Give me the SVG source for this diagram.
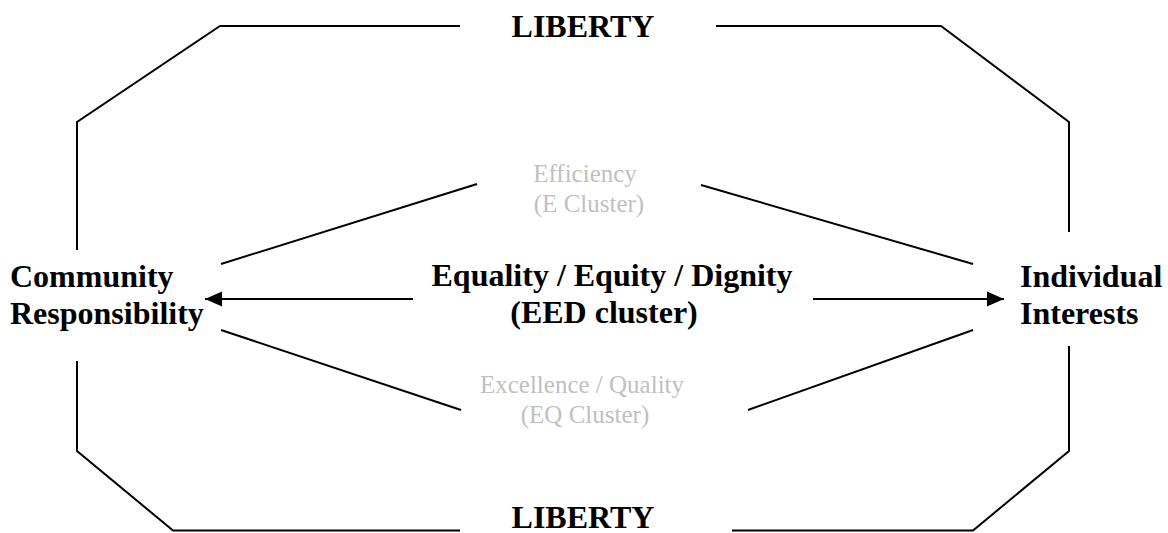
<svg xmlns="http://www.w3.org/2000/svg" width="1168" height="533" viewBox="0 0 1168 533">
  <style>
    text { font-family: 'Liberation Serif', 'Tinos', 'Times New Roman', 'DejaVu Serif', serif; }
    .bold { font-weight: bold; font-size: 32px; fill: #000; }
    .soft { font-size: 25px; fill: #c0c0c0; }
    .edge { fill: none; stroke: #000; stroke-width: 2; stroke-linejoin: miter; }
    .arrow { fill: none; stroke: #000; stroke-width: 2; marker-end: url(#head); }
  </style>
  <defs>
    <marker id="head" markerUnits="userSpaceOnUse" markerWidth="18" markerHeight="16" refX="17" refY="8" orient="auto">
      <path d="M0,0.5 L17,8 L0,15.5 Z" fill="#000"/>
    </marker>
  </defs>
  <rect width="1168" height="533" fill="#fff"/>

  <g id="connectors">
    <!-- outer octagon, broken where the labels sit -->
    <polyline class="edge" points="77,250 77,122 220,26 460,26"/>
    <polyline class="edge" points="716,26 941,26 1069,122 1069,232"/>
    <polyline class="edge" points="77,361 77,451 173,530.5 460,530.5"/>
    <polyline class="edge" points="732,530.5 973,530.5 1069,451 1069,346"/>
    <!-- spokes to the side clusters -->
    <line class="edge" x1="221" y1="264" x2="477" y2="184"/>
    <line class="edge" x1="701" y1="185" x2="973" y2="264"/>
    <line class="edge" x1="221" y1="330" x2="461" y2="410"/>
    <line class="edge" x1="748" y1="410" x2="973" y2="330"/>
    <!-- arrows from the central cluster -->
    <line class="arrow" x1="413" y1="299" x2="205" y2="299"/>
    <line class="arrow" x1="813" y1="299" x2="1004" y2="299"/>
  </g>

  <g id="liberty-top">
    <text class="bold" x="583" y="37" text-anchor="middle" font-family="Liberation Serif">LIBERTY</text>
  </g>
  <g id="liberty-bottom">
    <text class="bold" x="583" y="528" text-anchor="middle">LIBERTY</text>
  </g>
  <g id="community">
    <text class="bold" x="10" y="287">Community</text>
    <text class="bold" x="10" y="324">Responsibility</text>
  </g>
  <g id="individual">
    <text class="bold" x="1020" y="287">Individual</text>
    <text class="bold" x="1020" y="324">Interests</text>
  </g>
  <g id="eed">
    <text class="bold" x="612" y="286" text-anchor="middle">Equality / Equity / Dignity</text>
    <text class="bold" x="604" y="323" text-anchor="middle">(EED cluster)</text>
  </g>
  <g id="efficiency">
    <text class="soft" x="585" y="182" text-anchor="middle">Efficiency</text>
    <text class="soft" x="589" y="212" text-anchor="middle">(E Cluster)</text>
  </g>
  <g id="excellence">
    <text class="soft" x="582" y="393" text-anchor="middle">Excellence / Quality</text>
    <text class="soft" x="585" y="423" text-anchor="middle">(EQ Cluster)</text>
  </g>
</svg>
